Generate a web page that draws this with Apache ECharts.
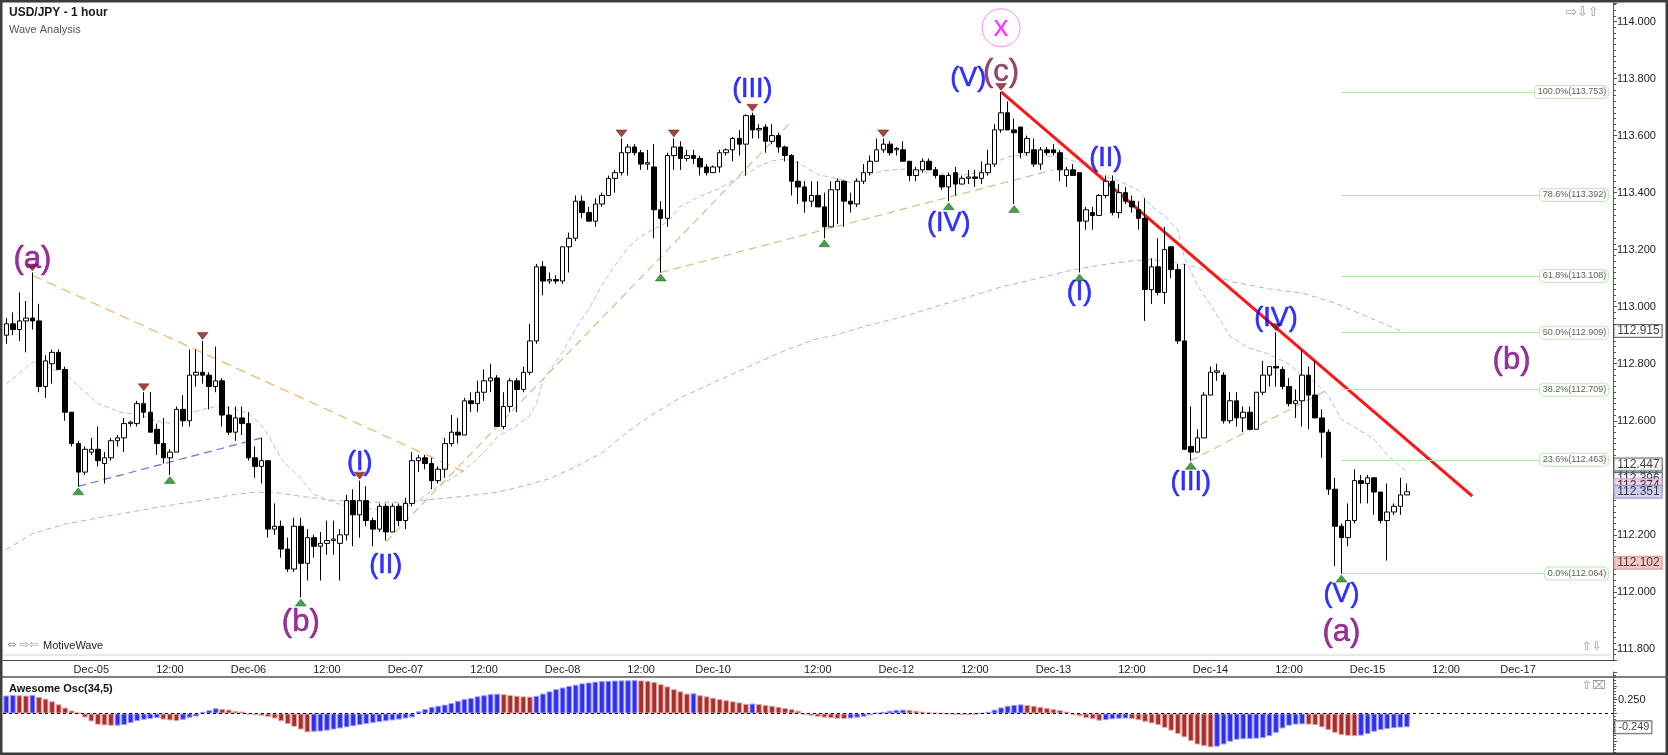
<!DOCTYPE html>
<html><head><meta charset="utf-8">
<script src="https://cdn.jsdelivr.net/npm/echarts@6/dist/echarts.min.js"></script>
<style>html,body{margin:0;padding:0;background:#fff}#c{width:1668px;height:755px}</style>
</head><body><div id="c"></div>
<script>
// ---------- time axis (hourly bars, weekend gaps) ----------
const sessions = [['2017-12-04T11:00:00Z',108],['2017-12-10T20:00:00Z',123],['2017-12-17T20:00:00Z',15]];
const MONTHS = ['Jan','Feb','Mar','Apr','May','Jun','Jul','Aug','Sep','Oct','Nov','Dec'];
const categories = [];
sessions.forEach(([s,n]) => {
  const t0 = Date.parse(s);
  for (let k = 0; k < n; k++) {
    const d = new Date(t0 + k * 3600e3);
    categories.push(MONTHS[d.getUTCMonth()] + '-' + String(d.getUTCDate()).padStart(2,'0') + ' ' + String(d.getUTCHours()).padStart(2,'0') + ':00');
  }
});
const xTickLabels = {
  'Dec-05 00:00':'Dec-05','Dec-05 12:00':'12:00','Dec-06 00:00':'Dec-06','Dec-06 12:00':'12:00',
  'Dec-07 00:00':'Dec-07','Dec-07 12:00':'12:00','Dec-08 00:00':'Dec-08','Dec-08 12:00':'12:00',
  'Dec-10 20:00':'Dec-10','Dec-11 12:00':'12:00','Dec-12 00:00':'Dec-12','Dec-12 12:00':'12:00',
  'Dec-13 00:00':'Dec-13','Dec-13 12:00':'12:00','Dec-14 00:00':'Dec-14','Dec-14 12:00':'12:00',
  'Dec-15 00:00':'Dec-15','Dec-15 12:00':'12:00','Dec-17 20:00':'Dec-17'
};

// ---------- candles [open, close, low, high] ----------
const ohlcDec04to08 = [
[112.90,112.94,112.87,112.96],[112.94,112.92,112.90,112.98],[112.92,112.95,112.88,113.05],[112.95,112.96,112.84,113.02],
[112.96,112.95,112.92,113.12],[112.95,112.72,112.70,113.01],[112.72,112.81,112.68,112.83],[112.80,112.84,112.73,112.85],
[112.84,112.78,112.78,112.85],[112.78,112.63,112.60,112.79],[112.63,112.52,112.51,112.63],[112.52,112.42,112.37,112.53],
[112.42,112.50,112.41,112.51],[112.49,112.50,112.48,112.54],[112.50,112.46,112.44,112.58],[112.45,112.47,112.38,112.49],
[112.47,112.53,112.46,112.54],[112.53,112.54,112.51,112.55],[112.54,112.59,112.49,112.61],[112.59,112.595,112.58,112.60],
[112.59,112.66,112.58,112.67],[112.66,112.63,112.61,112.70],[112.63,112.56,112.56,112.70],[112.57,112.52,112.48,112.59],
[112.52,112.47,112.45,112.61],[112.47,112.49,112.41,112.50],[112.49,112.64,112.49,112.65],[112.64,112.60,112.58,112.69],
[112.60,112.76,112.58,112.85],[112.76,112.77,112.72,112.85],[112.77,112.76,112.73,112.88],[112.76,112.72,112.64,112.77],
[112.72,112.74,112.70,112.86],[112.74,112.62,112.58,112.75],[112.62,112.56,112.55,112.65],[112.56,112.61,112.53,112.65],
[112.61,112.59,112.55,112.65],[112.59,112.47,112.46,112.63],[112.47,112.44,112.40,112.51],[112.44,112.46,112.38,112.54],
[112.46,112.22,112.19,112.46],[112.22,112.23,112.20,112.31],[112.23,112.15,112.12,112.25],[112.15,112.08,112.07,112.19],
[112.08,112.23,112.07,112.26],[112.23,112.10,111.98,112.26],[112.10,112.19,112.04,112.22],[112.19,112.16,112.12,112.20],
[112.16,112.17,112.04,112.21],[112.17,112.18,112.13,112.25],[112.18,112.185,112.13,112.25],[112.17,112.20,112.04,112.22],
[112.20,112.32,112.18,112.34],[112.32,112.27,112.16,112.36],[112.27,112.32,112.19,112.39],[112.32,112.25,112.23,112.37],
[112.25,112.22,112.16,112.26],[112.22,112.30,112.21,112.31],[112.30,112.21,112.18,112.31],[112.21,112.30,112.21,112.31],
[112.30,112.25,112.23,112.31],[112.25,112.31,112.22,112.33],[112.31,112.46,112.30,112.49],[112.46,112.47,112.42,112.48],
[112.47,112.45,112.43,112.48],[112.45,112.39,112.36,112.47],[112.39,112.43,112.38,112.44],[112.43,112.52,112.40,112.54],
[112.52,112.56,112.51,112.62],[112.56,112.55,112.52,112.61],[112.55,112.67,112.55,112.68],[112.67,112.66,112.63,112.70],
[112.66,112.70,112.63,112.74],[112.70,112.74,112.67,112.78],[112.74,112.75,112.70,112.80],[112.75,112.58,112.58,112.76],
[112.58,112.65,112.57,112.70],[112.65,112.74,112.63,112.75],[112.74,112.71,112.63,112.75],[112.71,112.77,112.70,112.79],
[112.77,112.88,112.76,112.94],[112.88,113.14,112.87,113.15],[113.14,113.09,113.04,113.16],[113.09,113.095,113.08,113.12],
[113.095,113.09,113.08,113.11],[113.09,113.21,113.08,113.21],[113.21,113.24,113.12,113.26],[113.24,113.37,113.23,113.39],
[113.37,113.33,113.31,113.39],[113.33,113.30,113.30,113.35],[113.30,113.36,113.28,113.38],[113.36,113.39,113.35,113.40],
[113.39,113.45,113.39,113.46],[113.45,113.47,113.40,113.48],[113.47,113.54,113.46,113.59],[113.54,113.56,113.46,113.57],
[113.56,113.54,113.53,113.57],[113.54,113.50,113.48,113.55],[113.50,113.505,113.48,113.55],[113.49,113.34,113.24,113.57],
[113.34,113.31,113.12,113.37],[113.31,113.53,113.28,113.54],[113.53,113.56,113.48,113.59],[113.56,113.52,113.48,113.58],
[113.52,113.53,113.51,113.55],[113.53,113.52,113.50,113.55],[113.52,113.49,113.46,113.53],[113.49,113.47,113.46,113.50]
];
const ohlcDec10to15 = [
[113.47,113.49,113.47,113.495],[113.49,113.54,113.47,113.55],[113.54,113.55,113.53,113.555],[113.55,113.59,113.51,113.595],
[113.59,113.57,113.53,113.62],[113.57,113.67,113.46,113.675],[113.67,113.62,113.59,113.68],[113.62,113.625,113.59,113.64],
[113.63,113.58,113.54,113.64],[113.58,113.60,113.57,113.64],[113.60,113.56,113.54,113.61],[113.56,113.53,113.51,113.565],
[113.53,113.44,113.39,113.535],[113.44,113.42,113.36,113.51],[113.42,113.37,113.33,113.44],[113.37,113.39,113.35,113.44],
[113.39,113.35,113.35,113.44],[113.35,113.28,113.24,113.40],[113.28,113.41,113.28,113.44],[113.41,113.44,113.29,113.45],
[113.44,113.37,113.28,113.445],[113.37,113.36,113.33,113.40],[113.36,113.44,113.35,113.45],[113.44,113.47,113.43,113.50],
[113.47,113.51,113.46,113.53],[113.51,113.55,113.51,113.59],[113.55,113.57,113.54,113.59],[113.57,113.54,113.53,113.58],
[113.55,113.555,113.53,113.56],[113.55,113.51,113.51,113.58],[113.51,113.46,113.44,113.51],[113.46,113.48,113.44,113.49],
[113.48,113.51,113.47,113.52],[113.51,113.48,113.48,113.52],[113.48,113.46,113.45,113.49],[113.46,113.42,113.41,113.46],
[113.42,113.46,113.37,113.47],[113.47,113.43,113.39,113.49],[113.43,113.45,113.43,113.46],[113.45,113.455,113.43,113.48],
[113.455,113.45,113.42,113.48],[113.45,113.47,113.43,113.51],[113.47,113.50,113.46,113.55],[113.50,113.62,113.49,113.64],
[113.62,113.68,113.61,113.753],[113.68,113.62,113.62,113.72],[113.62,113.61,113.36,113.66],[113.63,113.54,113.52,113.63],
[113.54,113.59,113.53,113.60],[113.55,113.50,113.49,113.59],[113.50,113.55,113.48,113.56],[113.55,113.54,113.53,113.56],
[113.55,113.54,113.53,113.57],[113.54,113.48,113.44,113.55],[113.46,113.48,113.42,113.49],[113.48,113.46,113.46,113.50],
[113.47,113.30,113.12,113.47],[113.30,113.34,113.27,113.35],[113.33,113.32,113.27,113.35],[113.32,113.39,113.32,113.395],
[113.39,113.44,113.38,113.46],[113.44,113.33,113.32,113.46],[113.33,113.40,113.31,113.43],[113.40,113.37,113.36,113.42],
[113.37,113.35,113.33,113.39],[113.34,113.31,113.27,113.37],[113.31,113.06,112.95,113.38],[113.06,113.14,113.01,113.17],
[113.14,113.05,113.04,113.24],[113.05,113.20,113.01,113.28],[113.21,113.13,113.10,113.21],[113.13,112.88,112.87,113.15],
[112.88,112.50,112.50,113.15],[112.51,112.49,112.46,112.65],[112.49,112.54,112.49,112.57],[112.54,112.69,112.54,112.70],
[112.69,112.77,112.69,112.79],[112.77,112.775,112.74,112.80],[112.76,112.60,112.59,112.77],[112.60,112.67,112.59,112.70],
[112.67,112.61,112.58,112.70],[112.61,112.63,112.56,112.65],[112.63,112.57,112.57,112.65],[112.57,112.70,112.57,112.70],
[112.70,112.76,112.69,112.81],[112.76,112.79,112.72,112.79],[112.79,112.785,112.72,112.91],[112.78,112.72,112.71,112.79],
[112.72,112.66,112.65,112.75],[112.66,112.67,112.61,112.71],[112.67,112.76,112.58,112.85],[112.76,112.69,112.57,112.79],
[112.69,112.61,112.61,112.81],[112.61,112.56,112.47,112.64],[112.56,112.36,112.34,112.57],[112.36,112.23,112.09,112.40],
[112.23,112.19,112.064,112.24],[112.19,112.25,112.16,112.31],[112.25,112.39,112.24,112.43],[112.39,112.38,112.31,112.41],
[112.38,112.40,112.31,112.41],[112.40,112.35,112.27,112.40],[112.35,112.25,112.24,112.35],[112.25,112.28,112.11,112.38],
[112.28,112.30,112.27,112.31],[112.30,112.34,112.27,112.40],[112.34,112.351,112.34,112.38]
];
const ohlc = ohlcDec04to08.concat(ohlcDec10to15);

// ---------- moving averages [barIndex, price] ----------
const maFast = [[0,112.729],[4,112.806],[6,112.792],[9,112.764],[12,112.702],[14,112.660],[18,112.626],[20,112.626],[23,112.598],[25,112.591],[27,112.619],[31,112.646],[33,112.653],[35,112.640],[37,112.626],[39,112.584],[40,112.550],[42,112.466],[45,112.397],[47,112.342],[50,112.314],[52,112.300],[55,112.293],[58,112.286],[60,112.286],[63,112.321],[66,112.370],[69,112.411],[72,112.466],[74,112.515],[75,112.543],[78,112.584],[80,112.619],[81,112.660],[82,112.743],[85,112.840],[87,112.923],[89,112.992],[91,113.075],[93,113.145],[95,113.207],[97,113.248],[99,113.272],[101,113.297],[103,113.352],[106,113.387],[109,113.415],[111,113.442],[113,113.463],[115,113.493],[117,113.511],[119,113.518],[121,113.505],[124,113.463],[127,113.449],[129,113.435],[131,113.456],[134,113.477],[138,113.484],[141,113.470],[144,113.463],[147,113.463],[149,113.477],[151,113.505],[153,113.525],[155,113.532],[158,113.529],[161,113.525],[164,113.505],[167,113.463],[170,113.442],[173,113.408],[175,113.352],[177,113.318],[179,113.269],[180,113.172],[182,113.075],[184,113.006],[187,112.896],[190,112.854],[193,112.833],[196,112.799],[198,112.757],[200,112.736],[202,112.688],[204,112.605],[207,112.563],[209,112.536],[211,112.480],[213,112.440],[214,112.422]];
const maSlow = [[0,112.148],[4,112.204],[9,112.238],[14,112.259],[19,112.280],[24,112.300],[30,112.321],[35,112.342],[38,112.349],[41,112.349],[45,112.335],[50,112.321],[55,112.314],[60,112.314],[70,112.335],[75,112.349],[80,112.377],[83,112.397],[87,112.439],[91,112.487],[95,112.563],[99,112.626],[103,112.681],[107,112.723],[111,112.764],[115,112.806],[119,112.847],[124,112.889],[126,112.896],[131,112.930],[137,112.965],[142,113.000],[147,113.034],[152,113.069],[157,113.096],[162,113.124],[167,113.145],[172,113.161],[175,113.165],[178,113.158],[182,113.138],[187,113.089],[193,113.062],[198,113.048],[203,113.013],[208,112.965],[213,112.915]];

// ---------- drawn trend lines ----------
const trendRed = [[152,113.753],[224,112.336]];
const trendOrange = [[4,113.11],[70,112.42]];
const trendBlue = [[11,112.37],[39,112.54]];
const trendOlive1 = [[58,112.175],[120,113.65]];
const trendOlive2 = [[100,113.12],[160,113.48]];
const trendOlive3 = [[181,112.46],[202,112.71]];

// ---------- swing markers ----------
const swingHighs = [[4,113.12],[21,112.70],[30,112.88],[54,112.39],[94,113.59],[102,113.59],[114,113.68],[134,113.59],[152,113.753],[194,112.91]];
const swingLows = [[11,112.37],[25,112.41],[45,111.98],[100,113.12],[125,113.24],[144,113.37],[154,113.36],[164,113.12],[181,112.46],[204,112.064]];

// ---------- wave labels [text, barIndex, price, degree] ----------
const waveLabels = [
  ['(a)',4,113.165,'primary'],['(b)',45,111.894,'primary'],['(I)',54,112.453,'minor'],['(II)',58,112.093,'minor'],
  ['(III)',114,113.76,'minor'],['(IV)',144,113.29,'minor'],['(V)',147,113.80,'minor'],['(c)',152,113.823,'primaryC'],
  ['(I)',164,113.048,'minor'],['(II)',168,113.521,'minor'],['(III)',181,112.383,'minor'],['(IV)',194,112.958,'minor'],
  ['(V)',204,111.989,'minor'],['(a)',204,111.859,'primary'],['(b)',230,112.81,'primary']
];
const waveX = ['x',152,113.978];

// ---------- fibonacci retracement ----------
const fibPct = ['100.0%','78.6%','61.8%','50.0%','38.2%','23.6%','0.0%'];
const fibPrice = [113.753,113.392,113.108,112.909,112.709,112.463,112.064];
const fibStart = 204;

// ---------- axis price tags (drawn in this order, later on top) ----------
const tagValues = [112.915,112.422,112.447,112.396,112.374,112.351,112.102];
const tagFill = ['#ffffff','#bcdcf2','#ffffff','#ffffff','#f2c8ee','#cacaf4','#f6b9b9'];
const tagBorder = ['#444','#8ab','#444','#555','#c9c','#88a','#c88'];

// ---------- Awesome Oscillator ----------
const aoValues = [
0.325,0.333,0.330,0.325,0.334,0.300,0.268,0.220,0.167,0.107,0.054,0.015,-0.071,-0.143,-0.202,-0.215,-0.222,-0.220,-0.208,-0.173,
-0.137,-0.113,-0.101,-0.083,-0.110,-0.125,-0.137,-0.113,-0.077,-0.054,0.030,0.060,0.095,0.083,0.071,0.042,0.036,-0.018,-0.030,-0.042,
-0.060,-0.090,-0.140,-0.190,-0.240,-0.290,-0.340,-0.330,-0.325,-0.310,-0.290,-0.270,-0.250,-0.230,-0.210,-0.190,-0.170,-0.155,-0.140,-0.125,
-0.110,-0.090,-0.070,0.040,0.080,0.120,0.140,0.160,0.190,0.230,0.260,0.280,0.310,0.330,0.350,0.357,0.350,0.335,0.320,0.310,
0.305,0.320,0.360,0.400,0.440,0.470,0.500,0.520,0.545,0.560,0.575,0.585,0.590,0.595,0.598,0.600,0.602,0.598,0.590,0.570,
0.530,0.490,0.440,0.400,0.360,0.365,0.330,0.310,0.285,0.260,0.240,0.220,0.200,0.175,0.180,0.170,0.155,0.140,0.120,0.100,
0.080,0.050,-0.020,-0.040,-0.060,-0.075,-0.085,-0.095,-0.100,-0.090,-0.075,-0.060,-0.030,0.010,0.030,0.050,0.065,0.070,0.065,0.050,
0.035,0.020,0.010,0.005,-0.010,-0.020,-0.025,-0.030,-0.020,0.005,0.030,0.070,0.110,0.140,0.155,0.165,0.155,0.140,0.120,0.100,
0.080,0.060,0.035,-0.020,-0.050,-0.080,-0.100,-0.130,-0.120,-0.105,-0.095,-0.090,-0.100,-0.120,-0.150,-0.180,-0.210,-0.260,-0.310,-0.370,
-0.430,-0.500,-0.560,-0.590,-0.613,-0.600,-0.560,-0.510,-0.475,-0.465,-0.460,-0.455,-0.445,-0.410,-0.350,-0.270,-0.220,-0.200,-0.195,-0.200,
-0.210,-0.250,-0.300,-0.350,-0.390,-0.405,-0.410,-0.400,-0.370,-0.330,-0.300,-0.280,-0.265,-0.255,-0.249
];
const aoLast = -0.249;

// ================= chart =================
const FONT = '"Liberation Sans", Arial, sans-serif';
const lastIdx = categories.length - 1;
const chart = echarts.init(document.getElementById('c'), null, {renderer:'canvas'});

function lineSeries(name, data, color, width, type) {
  return {name, type:'line', xAxisIndex:0, yAxisIndex:0, data, symbol:'none', silent:true,
    lineStyle:{color, width, type}, z:4, animation:false};
}
const waveStyle = {
  minor:{color:'#0000ff', fontSize:27},
  primary:{color:'#800080', fontSize:31},
  primaryC:{color:'#771c58', fontSize:31}
};
const blueBar = {color:'#2f2ff2', borderColor:'#9a9aff', borderWidth:1};
const redBar = {color:'#a8302c', borderColor:'#e6a3a0', borderWidth:1};

const option = {
  animation:false,
  backgroundColor:'#ffffff',
  textStyle:{fontFamily:FONT},
  title:[
    {text:'USD/JPY - 1 hour', subtext:'Wave Analysis', left:9, top:7, padding:0, itemGap:5,
     textStyle:{fontSize:12, fontWeight:'bold', color:'#1a1a1a', fontFamily:FONT},
     subtextStyle:{fontSize:11, color:'#555', fontFamily:FONT}},
    {text:'Awesome Osc(34,5)', left:9, top:683, padding:0,
     textStyle:{fontSize:11, fontWeight:'bold', color:'#111', fontFamily:FONT}}
  ],
  grid:[
    {left:3, right:55, top:3, height:657},
    {left:3, right:55, top:672, height:84}
  ],
  xAxis:[
    {type:'category', gridIndex:0, data:categories, boundaryGap:true,
     axisLine:{lineStyle:{color:'#444', width:1}},
     axisTick:{inside:true, length:5, alignWithLabel:true, lineStyle:{color:'#444'},
       interval:(i, v) => !!xTickLabels[v]},
     axisLabel:{interval:0, margin:4, fontSize:11, color:'#222', fontFamily:FONT,
       formatter:(v) => xTickLabels[v] || ''},
     splitLine:{show:false}},
    {type:'category', gridIndex:1, data:categories, boundaryGap:true, show:false}
  ],
  yAxis:[
    {type:'value', gridIndex:0, position:'right', min:111.761, max:114.065, splitNumber:11, scale:true,
     splitLine:{show:false},
     axisLine:{show:true, lineStyle:{color:'#555'}},
     axisTick:{show:true, length:4, lineStyle:{color:'#555'}},
     minorTick:{show:true, splitNumber:10, length:3, lineStyle:{color:'#555'}},
     axisLabel:{margin:4, fontSize:11, color:'#222', fontFamily:FONT,
       formatter:(v) => Math.abs(v*5 - Math.round(v*5)) < 1e-6 ? v.toFixed(3) : ''}},
    {type:'value', gridIndex:1, position:'right', min:-0.75, max:0.75, interval:0.25,
     splitLine:{show:false},
     axisLine:{show:true, lineStyle:{color:'#555'}},
     axisTick:{show:true, length:4, lineStyle:{color:'#555'}},
     minorTick:{show:true, splitNumber:5, length:3, lineStyle:{color:'#555'}},
     axisLabel:{margin:5, fontSize:11, color:'#222', fontFamily:FONT,
       formatter:(v) => Math.abs(v - 0.25) < 1e-6 ? '0.250' : ''}}
  ],
  series:[
    lineSeries('MA slow', maSlow, '#d99bd9', 1, [5,4]),
    lineSeries('MA fast', maFast, '#a9c1f7', 1, [5,3]),
    lineSeries('Trend orange', trendOrange, '#f8b670', 1.3, [10,6]),
    lineSeries('Trend blue', trendBlue, '#6270ee', 1.2, [8,5]),
    lineSeries('Trend olive 1', trendOlive1, '#cbc88e', 1.3, [8,5]),
    lineSeries('Trend olive 2', trendOlive2, '#cbc88e', 1.3, [8,5]),
    lineSeries('Trend olive 3', trendOlive3, '#cbc88e', 1.3, [8,5]),
    {name:'USD/JPY', type:'candlestick', xAxisIndex:0, yAxisIndex:0, data:ohlc, barWidth:5, z:5,
     itemStyle:{color:'#ffffff', color0:'#000000', borderColor:'#000000', borderColor0:'#000000', borderWidth:1}},
    {name:'Fibonacci', type:'scatter', xAxisIndex:0, yAxisIndex:0, z:6, silent:true,
     data:fibPrice.map((p,k) => ({value:[lastIdx, p], name:fibPct[k] + '(' + p.toFixed(3) + ')'})),
     symbolSize:1, itemStyle:{color:'rgba(0,0,0,0)'},
     label:{show:true, position:'left', distance:1, formatter:'{b}', fontSize:9, color:'#333', fontFamily:FONT,
       backgroundColor:'#ffffff', borderColor:'#b5e6ad', borderWidth:1, borderRadius:4, padding:[2,2,1,3]},
     markLine:{silent:true, symbol:'none', label:{show:false}, animation:false,
       lineStyle:{color:'#b2eaa9', width:1, type:'solid'},
       data:fibPrice.map(p => [{coord:[categories[fibStart], p]}, {coord:[categories[lastIdx], p]}])}},
    lineSeries('Trend red', trendRed, '#ff1414', 3, 'solid'),
    {name:'Swing highs', type:'scatter', xAxisIndex:0, yAxisIndex:0, z:7, silent:true,
     data:swingHighs, symbol:'path://M0,0 L10,0 L5,7 Z', symbolSize:[11,7], symbolOffset:[0,-5],
     itemStyle:{color:'#8e1414', borderColor:'#4a0a0a', borderWidth:0.5}},
    {name:'Swing lows', type:'scatter', xAxisIndex:0, yAxisIndex:0, z:7, silent:true,
     data:swingLows, symbol:'triangle', symbolSize:[11,7], symbolOffset:[0,5],
     itemStyle:{color:'#168a16', borderColor:'#0a4a0a', borderWidth:0.5}},
    {name:'Waves', type:'scatter', xAxisIndex:0, yAxisIndex:0, z:8, silent:true,
     symbolSize:1, itemStyle:{color:'rgba(0,0,0,0)'},
     data:waveLabels.map(([t,i,p,deg]) => ({value:[i,p], name:t,
       label:{show:true, position:'inside', formatter:'{b}', fontFamily:FONT,
         color:waveStyle[deg].color, fontSize:waveStyle[deg].fontSize,
         textBorderColor:waveStyle[deg].color, textBorderWidth:0.6}})).concat([
       {value:[waveX[1], waveX[2]], name:waveX[0],
        label:{show:true, position:'inside', formatter:'{b}', fontFamily:FONT, color:'#ff00ff', fontSize:30,
          width:36, height:34, lineHeight:30, align:'center', verticalAlign:'middle',
          borderColor:'#ff66ff', borderWidth:1, borderRadius:19, padding:[0,1,4,1]}}])},
    {name:'Price tags', type:'scatter', xAxisIndex:0, yAxisIndex:0, z:20, silent:true,
     symbolSize:1, itemStyle:{color:'rgba(0,0,0,0)'},
     data:tagValues.map((v,k) => ({value:[lastIdx, v], name:v.toFixed(3),
       label:{show:true, position:'right', distance:4, formatter:'{b}', fontSize:12, color:'#111', fontFamily:FONT,
         backgroundColor:tagFill[k], borderColor:tagBorder[k], borderWidth:1, padding:[0,2,0,3]}}))},
    {name:'Awesome Osc', type:'bar', xAxisIndex:1, yAxisIndex:1, barCategoryGap:'12%',
     data:aoValues.map((v,k) => ({value:v, itemStyle:(k === 0 || v > aoValues[k-1]) ? blueBar : redBar})),
     markLine:{silent:true, symbol:'none', label:{show:false}, animation:false,
       lineStyle:{color:'#000', width:1, type:[3,3]}, data:[{yAxis:0}]}},
    {name:'AO tag', type:'scatter', xAxisIndex:1, yAxisIndex:1, z:20, silent:true,
     symbolSize:1, itemStyle:{color:'rgba(0,0,0,0)'},
     data:[{value:[lastIdx, aoLast], name:aoLast.toFixed(3)}],
     label:{show:true, position:'right', distance:5, formatter:'{b}', fontSize:11, color:'#111', fontFamily:FONT,
       backgroundColor:'#fff', borderColor:'#444', borderWidth:1, padding:[1,2,0,3]}}
  ],
  graphic:[
    {type:'rect', shape:{x:0, y:0, width:1668, height:755}, style:{fill:'none', stroke:'#3c3c3c', lineWidth:5}, silent:true, z:100},
    {type:'line', shape:{x1:0, y1:677, x2:1668, y2:677}, style:{stroke:'#555', lineWidth:1.5}, silent:true, z:100},
    {type:'line', shape:{x1:3, y1:655, x2:1610, y2:655}, style:{stroke:'#d0d0d0', lineWidth:1}, silent:true, z:1},
    {type:'text', left:7, top:640, silent:true, style:{text:'\u21D4 \u21E8\u21E6', fill:'#999', fontSize:11, fontFamily:'DejaVu Sans'}},
    {type:'text', left:43, top:640, silent:true, style:{text:'MotiveWave', fill:'#222', fontSize:11, fontFamily:FONT}},
    {type:'text', left:1566, top:6, silent:true, style:{text:'\u21E8\u21E9\u21E7', fill:'#999', fontSize:13, fontFamily:'DejaVu Sans'}},
    {type:'text', left:1582, top:641, silent:true, style:{text:'\u21E7\u21E9', fill:'#999', fontSize:12, fontFamily:'DejaVu Sans'}},
    {type:'text', left:1582, top:680, silent:true, style:{text:'\u21E7\u2327', fill:'#999', fontSize:12, fontFamily:'DejaVu Sans'}}
  ]
};
chart.setOption(option);
</script></body></html>
